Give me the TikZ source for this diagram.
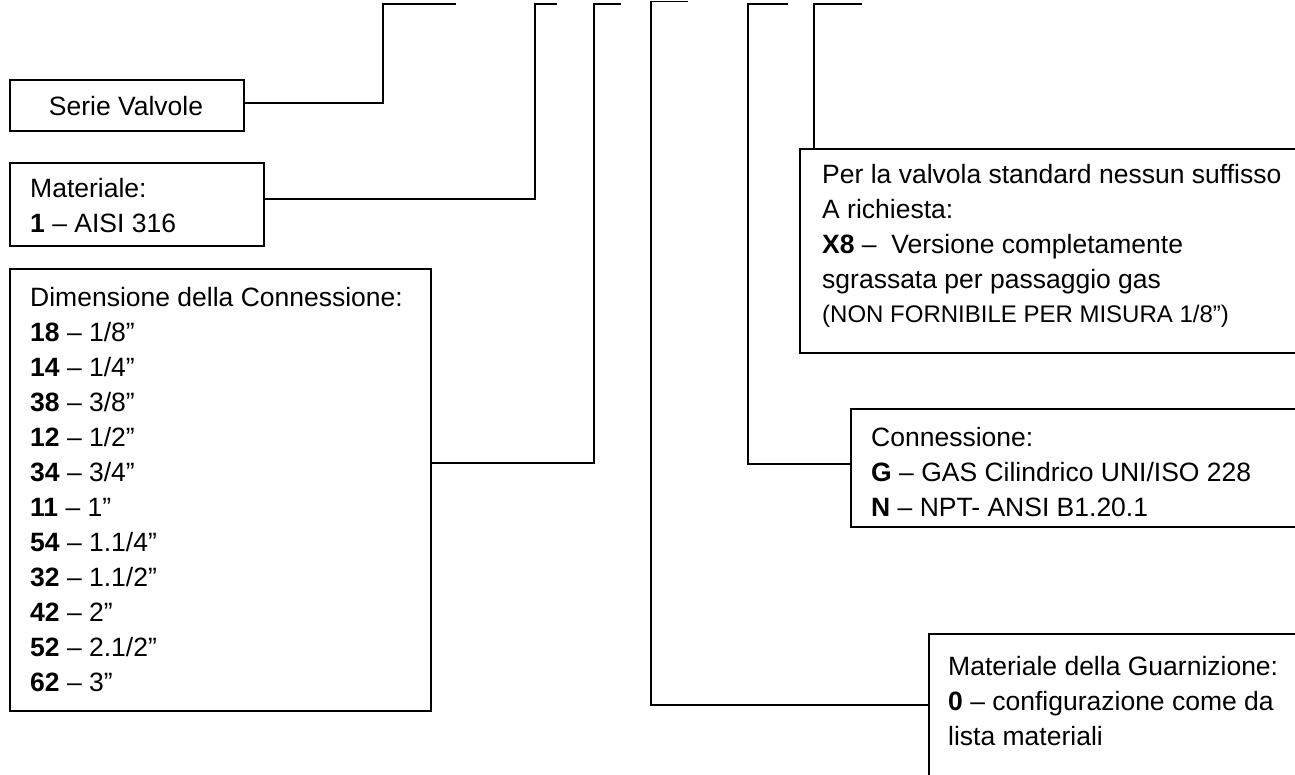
\documentclass[tikz,border=0pt]{standalone}
\usepackage{fontspec}
\setmainfont{Liberation Sans}
\begin{document}
\begin{tikzpicture}[x=1pt,y=-1pt,
  box/.style={draw=black,line width=1.8pt,fill=none,inner sep=0pt,anchor=north west},
  conn/.style={draw=black,line width=1.8pt},
  txt/.style={inner sep=0pt,anchor=base west,align=left,font=\fontsize{26.5}{35}\selectfont},
  small/.style={inner sep=0pt,anchor=base west,font=\fontsize{24}{30}\selectfont}]
\clip (0,0) rectangle (1295,775);
\fill[white] (0,0) rectangle (1295,775);
% boxes
\node[box,minimum width=234pt,minimum height=51pt] (serie) at (9,79) {};
\node[box,minimum width=254pt,minimum height=83pt] (mat) at (9,162) {};
\node[box,minimum width=421pt,minimum height=442pt] (dim) at (9,268) {};
\node[box,minimum width=560pt,minimum height=204pt] (suff) at (799,148) {};
\node[box,minimum width=500pt,minimum height=118pt] (cnx) at (850,408) {};
\node[box,minimum width=420pt,minimum height=200pt] (guar) at (928,633) {};
% texts (anchor = baseline of the last line)
\node[txt,anchor=base] (tserie) at (126,116) {Serie Valvole};
\node[txt] (tmat) at (30,233) {Materiale:\\\textbf{1} – AISI 316};
\node[txt] (tdim) at (30,691) {Dimensione della Connessione:\\
\textbf{18} – 1/8”\\
\textbf{14} – 1/4”\\
\textbf{38} – 3/8”\\
\textbf{12} – 1/2”\\
\textbf{34} – 3/4”\\
\textbf{11} – 1”\\
\textbf{54} – 1.1/4”\\
\textbf{32} – 1.1/2”\\
\textbf{42} – 2”\\
\textbf{52} – 2.1/2”\\
\textbf{62} – 3”};
\node[txt] (tsuff) at (822,289) {Per la valvola standard nessun suffisso\\A richiesta:\\\textbf{X8} – \ Versione completamente\\sgrassata per passaggio gas};
\node[small] (tnote) at (822,323) {(NON FORNIBILE PER MISURA 1/8”)};
\node[txt] (tcnx) at (871,516) {Connessione:\\\textbf{G} – GAS Cilindrico UNI/ISO 228\\\textbf{N} – NPT- ANSI B1.20.1};
\node[txt] (tguar) at (948,745) {Materiale della Guarnizione:\\\textbf{0} – configurazione come da\\lista materiali};
% connector ends at the top
\coordinate (e1) at (456,4);
\coordinate (e2) at (557,4);
\coordinate (e3) at (621,4);
\coordinate (e4) at (688,1.5);
\coordinate (e5) at (788,4);
\coordinate (e6) at (862,4);
% connectors
\draw[conn] (serie.east |- 0,103) -| (383,4) -- (e1);
\draw[conn] (mat.east |- 0,199) -| (535,4) -- (e2);
\draw[conn] (dim.east |- 0,463) -| (594,4) -- (e3);
\draw[conn] (guar.west |- 0,705) -| (651,1.5) -- (e4);
\draw[conn] (cnx.west |- 0,464) -| (748,4) -- (e5);
\draw[conn] (suff.north -| 814,0) -- (814,4) -- (e6);
\end{tikzpicture}
\end{document}
